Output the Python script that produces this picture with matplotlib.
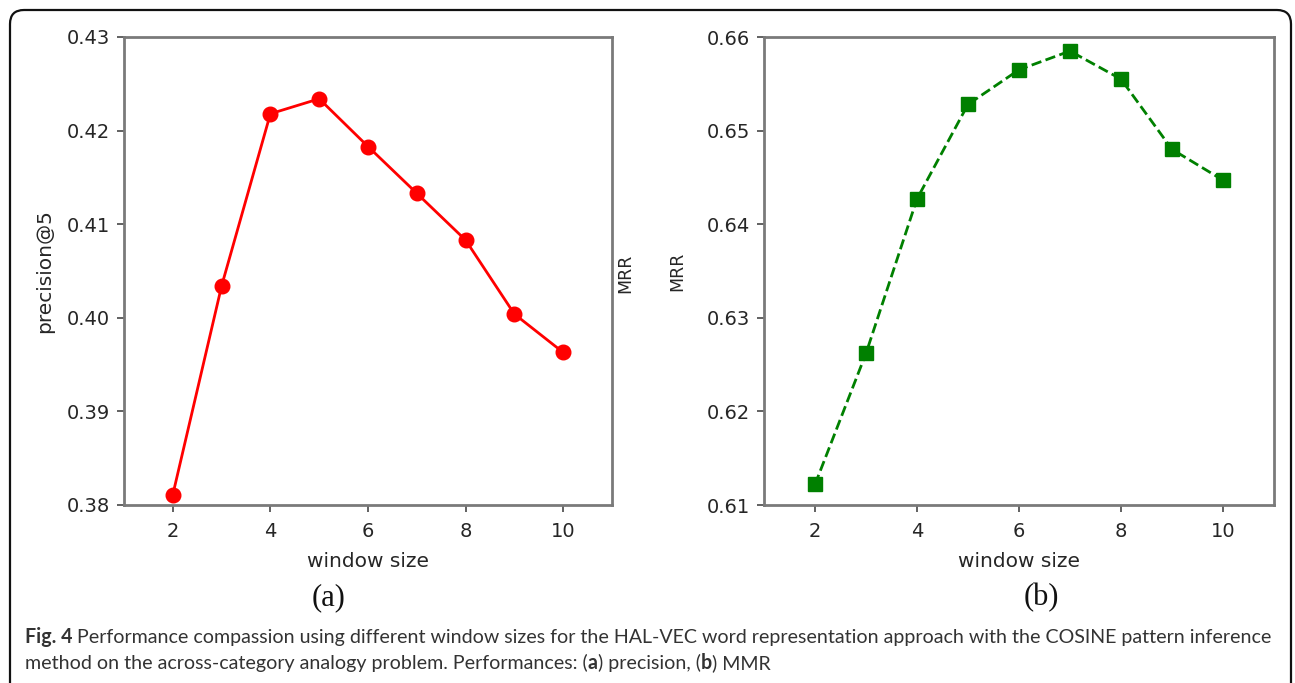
import matplotlib
matplotlib.use("Agg")
import matplotlib.pyplot as plt
from matplotlib.patches import FancyBboxPatch
from matplotlib.transforms import IdentityTransform

plt.rcParams["font.family"] = ["DejaVu Sans"]

# ---- data ----
window_sizes = [2, 3, 4, 5, 6, 7, 8, 9, 10]
precision_at5 = [0.3811, 0.4034, 0.4218, 0.4234, 0.4183, 0.4133, 0.4083, 0.4004, 0.3963]
mrr = [0.6122, 0.6262, 0.6427, 0.6528, 0.6565, 0.6585, 0.6555, 0.6480, 0.6447]
x_ticks = [2, 4, 6, 8, 10]
prec_ticks = [0.38, 0.39, 0.40, 0.41, 0.42, 0.43]
mrr_ticks = [0.61, 0.62, 0.63, 0.64, 0.65, 0.66]

W, H = 1295, 683
fig = plt.figure(figsize=(W / 100, H / 100), dpi=100)

SPINE = "#7a7a7a"
TXT = "#262626"


def px_axes(l, t, r, b):
    return fig.add_axes([l / W, 1 - b / H, (r - l) / W, (b - t) / H])


def style(ax):
    for s in ax.spines.values():
        s.set_color(SPINE)
        s.set_linewidth(2.0)
    ax.tick_params(axis="both", length=5, width=1.3, color="#555555",
                   labelsize=14, labelcolor=TXT, pad=5)
    ax.tick_params(axis="x", pad=7)


ax1 = px_axes(124, 37, 612, 505)
ax1.plot(window_sizes, precision_at5, color="red", lw=2.0, marker="o", ms=10.5)
ax1.set_xlim(1, 11)
ax1.set_ylim(0.38, 0.43)
ax1.set_xticks(x_ticks)
ax1.set_yticks(prec_ticks)
ax1.set_yticklabels([f"{v:.2f}" for v in prec_ticks])
style(ax1)
ax1.set_xlabel("window size", fontsize=14.5, color=TXT, va="center")
ax1.xaxis.set_label_coords(0.5, -0.12)
ax1.set_ylabel("precision@5", fontsize=14.5, color=TXT, va="center")
ax1.yaxis.set_label_coords(-0.162, 0.5)

ax2 = px_axes(764, 37, 1274, 505)
ax2.plot(window_sizes, mrr, color="green", lw=2.0, ls="--", marker="s", ms=9.5)
ax2.set_xlim(1, 11)
ax2.set_ylim(0.61, 0.66)
ax2.set_xticks(x_ticks)
ax2.set_yticks(mrr_ticks)
ax2.set_yticklabels([f"{v:.2f}" for v in mrr_ticks])
style(ax2)
ax2.set_xlabel("window size", fontsize=14.5, color=TXT, va="center")
ax2.xaxis.set_label_coords(0.5, -0.12)
ax2.set_ylabel("MRR", fontsize=12.5, color=TXT, va="center")
ax2.yaxis.set_label_coords((677 - 764) / 510, 0.5)

# stray label between the panels
fig.text(625 / W, 1 - 273 / H, "MRR", rotation=90, fontsize=12.5, color=TXT,
         ha="center", va="center")

# panel letters
fig.text(329 / W, 1 - 598 / H, "(a)", family="Liberation Serif", fontsize=22,
         ha="center", va="center", color="#111111")
fig.text(1041 / W, 1 - 598 / H, "(b)", family="Liberation Serif", fontsize=22,
         ha="center", va="center", color="#111111")

# outer rounded frame
frame = FancyBboxPatch((10, -30), 1281, H - 10 + 30,
                       boxstyle="round,pad=0,rounding_size=14",
                       transform=IdentityTransform(), fill=False,
                       lw=1.6, ec="#111111")
fig.add_artist(frame)

# caption
renderer = fig.canvas.get_renderer()
CAP_FONT = "Lato"


def draw_segments(x0, yc, segs, size):
    x = x0
    arts = []
    for s, w in segs:
        t = fig.text(x / W, 1 - yc / H, s, family=CAP_FONT, fontsize=size,
                     fontweight=w, color="#333333", ha="left", va="center")
        bb = t.get_window_extent(renderer)
        x += bb.width
        arts.append(t)
    return x, arts


line1 = [("Fig. 4", "bold"),
         (" Performance compassion using different window sizes for the HAL-VEC word "
          "representation approach with the COSINE pattern inference", "normal")]
line2 = [("method on the across-category analogy problem. Performances: (", "normal"),
         ("a", "bold"), (") precision, (", "normal"), ("b", "bold"), (") MMR", "normal")]

base = 12
xe, arts = draw_segments(25, 637, line1, base)
width = xe - 25
for a in arts:
    a.remove()
size = base * 1238 / width
draw_segments(25, 637, line1, size)
draw_segments(25, 663, line2, size)

fig.savefig("out.png", dpi=100)
